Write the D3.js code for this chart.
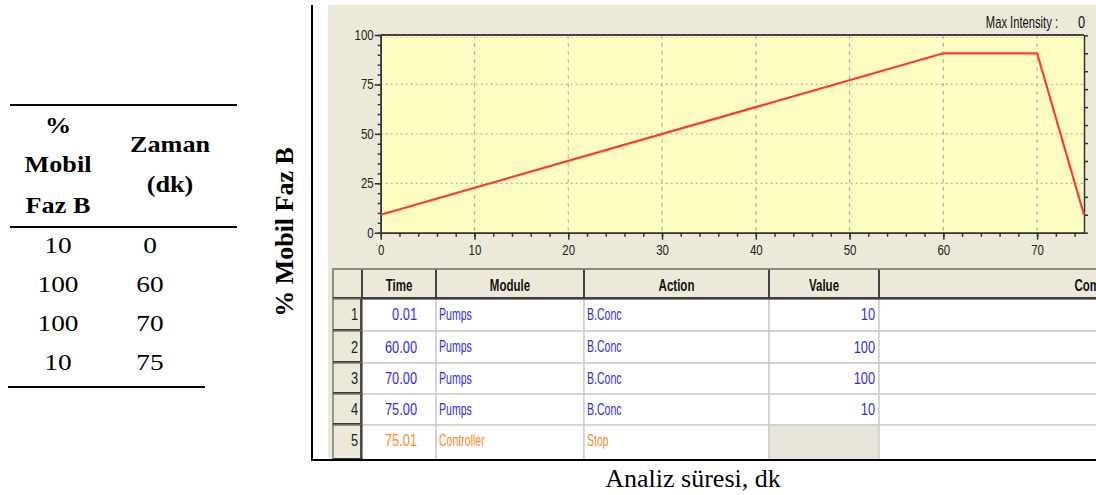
<!DOCTYPE html>
<html>
<head>
<meta charset="utf-8">
<script src="https://cdn.jsdelivr.net/npm/d3@7"></script>
<style>
  body { margin: 0; background: #fff; }
  svg { display: block; }
</style>
</head>
<body>
<svg id="chart" width="1096" height="495"></svg>
<script>
// Gradient program: % mobile phase B versus time (min)
const gradTime = [0, 60, 70, 75];
const gradB = [10, 100, 100, 10];

// Instrument time-program rows
const progNo = ["1", "2", "3", "4", "5"];
const progTime = ["0.01", "60.00", "70.00", "75.00", "75.01"];
const progModule = ["Pumps", "Pumps", "Pumps", "Pumps", "Controller"];
const progAction = ["B.Conc", "B.Conc", "B.Conc", "B.Conc", "Stop"];
const progValue = ["10", "100", "100", "10", ""];
const gridHeaders = ["Time", "Module", "Action", "Value", "Comment"];

// Axis ticks
const xTicks = [0, 10, 20, 30, 40, 50, 60, 70];
const yTicks = [0, 25, 50, 75, 100];

const svg = d3.select("#chart");
const SERIF = "'Liberation Serif', 'Times New Roman', serif";
const UI = "'Liberation Sans', Arial, sans-serif";
const PANEL = "#ECE9D8";
const BLUE = "#2b2bff";
const ORANGE = "#ff8a1e";

// compressed UI text (narrow look of the instrument software)
function uiText(g, x, y, str, o = {}) {
  const sx = o.sx || 0.72;
  return g.append("text")
    .attr("transform", `translate(${x},${y}) scale(${sx},1)`)
    .attr("text-anchor", o.anchor || "start")
    .attr("dominant-baseline", "central")
    .attr("font-family", UI)
    .attr("font-size", o.size || 16)
    .attr("font-weight", o.bold ? "bold" : "normal")
    .attr("fill", o.fill || "#111")
    .text(str);
}

// serif text, slightly widened
function serifText(g, x, y, str, size, bold) {
  return g.append("text")
    .attr("transform", `translate(${x},${y}) scale(1.14,1)`)
    .attr("text-anchor", "middle")
    .attr("dominant-baseline", "central")
    .attr("font-family", SERIF)
    .attr("font-weight", bold ? "bold" : "normal")
    .attr("font-size", size)
    .attr("fill", "#000")
    .text(str);
}

// ---------- Left summary table ----------
const lt = svg.append("g");
const ruleW = 2;
lt.append("line").attr("x1", 10).attr("x2", 237).attr("y1", 105).attr("y2", 105)
  .attr("stroke", "#000").attr("stroke-width", ruleW);
lt.append("line").attr("x1", 10).attr("x2", 237).attr("y1", 227).attr("y2", 227)
  .attr("stroke", "#000").attr("stroke-width", ruleW);
lt.append("line").attr("x1", 8).attr("x2", 205).attr("y1", 387).attr("y2", 387)
  .attr("stroke", "#000").attr("stroke-width", ruleW);

const colB = 58, colT = 170, colTd = 150;
[["%", 125], ["Mobil", 164], ["Faz B", 205]].forEach(([t, yy]) => serifText(lt, colB, yy, t, 23, true));
[["Zaman", 144], ["(dk)", 184]].forEach(([t, yy]) => serifText(lt, colT, yy, t, 23, true));

const rowY = d3.scalePoint().domain(d3.range(gradB.length)).range([245, 362]);
gradB.forEach((v, i) => {
  serifText(lt, colB, rowY(i), v, 24, false);
  serifText(lt, colTd, rowY(i), gradTime[i], 24, false);
});

// Rotated y title
svg.append("text")
  .attr("transform", "translate(284,232) rotate(-90)")
  .attr("text-anchor", "middle").attr("dominant-baseline", "central")
  .attr("font-family", SERIF).attr("font-weight", "bold").attr("font-size", 26)
  .text("% Mobil Faz B");

// X title
svg.append("text").attr("x", 693).attr("y", 478).attr("text-anchor", "middle")
  .attr("dominant-baseline", "central").attr("font-family", SERIF)
  .attr("font-size", 26).text("Analiz süresi, dk");

// ---------- Software panel ----------
const panel = svg.append("g");
panel.append("rect").attr("x", 328).attr("y", 5).attr("width", 1096 - 328).attr("height", 455)
  .attr("fill", PANEL);

const plot = { left: 380.7, right: 1084, top: 35, bottom: 232.7 };
const x = d3.scaleLinear().domain([0, 75]).range([plot.left, plot.right]);
const y = d3.scaleLinear().domain([0, 100]).range([plot.bottom, plot.top]);
// secondary (right) axis used by the plotted program trace
const yR = d3.scaleLinear().domain([0, 110.2]).range([plot.bottom, plot.top]);

panel.append("rect").attr("x", plot.left).attr("y", plot.top)
  .attr("width", plot.right - plot.left).attr("height", plot.bottom - plot.top)
  .attr("fill", "#FFFFC4");

// grid
panel.append("g").selectAll("line").data(xTicks.filter(d => d > 0)).join("line")
  .attr("x1", d => x(d)).attr("x2", d => x(d))
  .attr("y1", plot.top).attr("y2", plot.bottom)
  .attr("stroke", "#b4b4b4").attr("stroke-width", 1.2).attr("stroke-dasharray", "4,4");
panel.append("g").selectAll("line").data(yTicks.filter(d => d > 0 && d < 100)).join("line")
  .attr("x1", plot.left).attr("x2", plot.right)
  .attr("y1", d => y(d)).attr("y2", d => y(d))
  .attr("stroke", "#b4b4b4").attr("stroke-width", 1.2).attr("stroke-dasharray", "2,3");
panel.append("line").attr("x1", plot.left).attr("x2", plot.right)
  .attr("y1", plot.top + 2.5).attr("y2", plot.top + 2.5)
  .attr("stroke", "#c8c8b0").attr("stroke-width", 1).attr("stroke-dasharray", "2,3");

function styleAxis(g, sx) {
  g.select(".domain").attr("stroke", "#333").attr("stroke-width", 1.5);
  g.selectAll(".tick line").attr("stroke", "#333").attr("stroke-width", 1.5);
  g.selectAll("text").attr("font-family", UI).attr("font-size", 14).attr("fill", "#222")
    .each(function () {
      const t = d3.select(this);
      const tx = +t.attr("x") || 0;
      t.attr("transform", `scale(${sx},1)`).attr("x", tx / sx);
    });
}

// minor ticks
panel.append("g").attr("transform", `translate(${plot.left},0)`)
  .call(d3.axisLeft(y).tickValues(d3.range(0, 101, 5)).tickSize(3).tickSizeOuter(0).tickFormat(""))
  .call(g => styleAxis(g, 1));
panel.append("g").attr("transform", `translate(0,${plot.bottom})`)
  .call(d3.axisBottom(x).tickValues(d3.range(0, 76, 2)).tickSize(4).tickSizeOuter(0).tickFormat(""))
  .call(g => styleAxis(g, 1));
panel.append("g").attr("transform", `translate(${plot.right},0)`)
  .call(d3.axisRight(yR).tickValues(d3.range(0, 111, 10)).tickSize(4).tickSizeOuter(0).tickFormat(""))
  .call(g => styleAxis(g, 1));

// major ticks with labels
panel.append("g").attr("transform", `translate(${plot.left},0)`)
  .call(d3.axisLeft(y).tickValues(yTicks).tickSize(6).tickPadding(1).tickSizeOuter(0))
  .call(g => styleAxis(g, 0.82));
panel.append("g").attr("transform", `translate(0,${plot.bottom})`)
  .call(d3.axisBottom(x).tickValues(xTicks).tickSize(7).tickPadding(5).tickSizeOuter(0))
  .call(g => styleAxis(g, 0.82));

// top border of plot
panel.append("line").attr("x1", plot.left).attr("x2", plot.right)
  .attr("y1", plot.top).attr("y2", plot.top)
  .attr("stroke", "#444").attr("stroke-width", 2);

// program trace
panel.append("path")
  .datum(gradB)
  .attr("fill", "none").attr("stroke", "#ff3a2e").attr("stroke-width", 2.2)
  .attr("stroke-linejoin", "round")
  .attr("d", d3.line().x((d, i) => x(gradTime[i])).y(d => yR(d)));

uiText(panel, 1058, 22, "Max Intensity :", { anchor: "end", size: 16, sx: 0.7 });
uiText(panel, 1085, 22, "0", { anchor: "end", size: 16, sx: 0.8 });

// ---------- Program grid ----------
const colEdges = [333, 362, 436, 584, 769, 879, 1330];
const rowEdges = [269, 299, 331, 363, 394, 425, 460];
const grid = panel.append("g");

// body cells
for (let r = 1; r < rowEdges.length - 1; r++) {
  for (let c = 1; c < colEdges.length - 1; c++) {
    const blank = (c === 4 && progValue[r - 1] === "");
    grid.append("rect")
      .attr("x", colEdges[c]).attr("y", rowEdges[r])
      .attr("width", colEdges[c + 1] - colEdges[c])
      .attr("height", rowEdges[r + 1] - rowEdges[r])
      .attr("fill", blank ? "#E8E5DA" : "#fff")
      .attr("stroke", "#cfcfc6").attr("stroke-width", 1.5);
  }
}
// header cells
for (let c = 0; c < colEdges.length - 1; c++) {
  grid.append("rect")
    .attr("x", colEdges[c]).attr("y", rowEdges[0])
    .attr("width", colEdges[c + 1] - colEdges[c]).attr("height", rowEdges[1] - rowEdges[0])
    .attr("fill", PANEL).attr("stroke", "#6d6d66").attr("stroke-width", 1.5);
}
grid.append("line").attr("x1", colEdges[0]).attr("x2", 1096)
  .attr("y1", rowEdges[1] - 1).attr("y2", rowEdges[1] - 1)
  .attr("stroke", "#404040").attr("stroke-width", 2);
// row-number buttons
for (let r = 1; r < rowEdges.length - 1; r++) {
  const h = rowEdges[r + 1] - rowEdges[r];
  grid.append("rect")
    .attr("x", colEdges[0]).attr("y", rowEdges[r])
    .attr("width", colEdges[1] - colEdges[0]).attr("height", h)
    .attr("fill", PANEL).attr("stroke", "#7a7a72").attr("stroke-width", 1.5);
  grid.append("path")
    .attr("d", `M${colEdges[1] - 1},${rowEdges[r]} V${rowEdges[r] + h - 1} H${colEdges[0]}`)
    .attr("fill", "none").attr("stroke", "#3c3c3c").attr("stroke-width", 1.8);
}
// vertical dividers in header
colEdges.slice(1, -1).forEach(cx =>
  grid.append("line").attr("x1", cx).attr("x2", cx)
    .attr("y1", rowEdges[0]).attr("y2", rowEdges[1])
    .attr("stroke", "#3c3c3c").attr("stroke-width", 1.8));
grid.append("line").attr("x1", colEdges[0]).attr("x2", 1096)
  .attr("y1", rowEdges[0]).attr("y2", rowEdges[0])
  .attr("stroke", "#8a8a82").attr("stroke-width", 1.5);

// header labels
gridHeaders.forEach((h, i) => {
  const cx = i < 4 ? (colEdges[i + 1] + colEdges[i + 2]) / 2 : 1101;
  uiText(grid, cx, (rowEdges[0] + rowEdges[1]) / 2 + 1, h, { anchor: "middle", bold: true, size: 16, sx: 0.72 });
});

// row contents
const rowCenters = [314.5, 347, 378.5, 409.5, 440.5];
progNo.forEach((n, i) => {
  const cy = rowCenters[i];
  const col = i < 4 ? BLUE : ORANGE;
  uiText(grid, colEdges[1] - 4, cy, n, { anchor: "end", size: 16, sx: 0.8, fill: "#222" });
  uiText(grid, colEdges[2] - 19, cy, progTime[i], { anchor: "end", size: 16, sx: 0.8, fill: col });
  uiText(grid, colEdges[2] + 3, cy, progModule[i], { size: 16, sx: 0.66, fill: col });
  uiText(grid, colEdges[3] + 3, cy, progAction[i], { size: 16, sx: 0.66, fill: col });
  if (progValue[i] !== "")
    uiText(grid, colEdges[5] - 4, cy, progValue[i], { anchor: "end", size: 16, sx: 0.8, fill: col });
});

// black frame
svg.append("path").attr("d", "M312,5 V460 H1096")
  .attr("fill", "none").attr("stroke", "#000").attr("stroke-width", 2);
</script>
</body>
</html>
